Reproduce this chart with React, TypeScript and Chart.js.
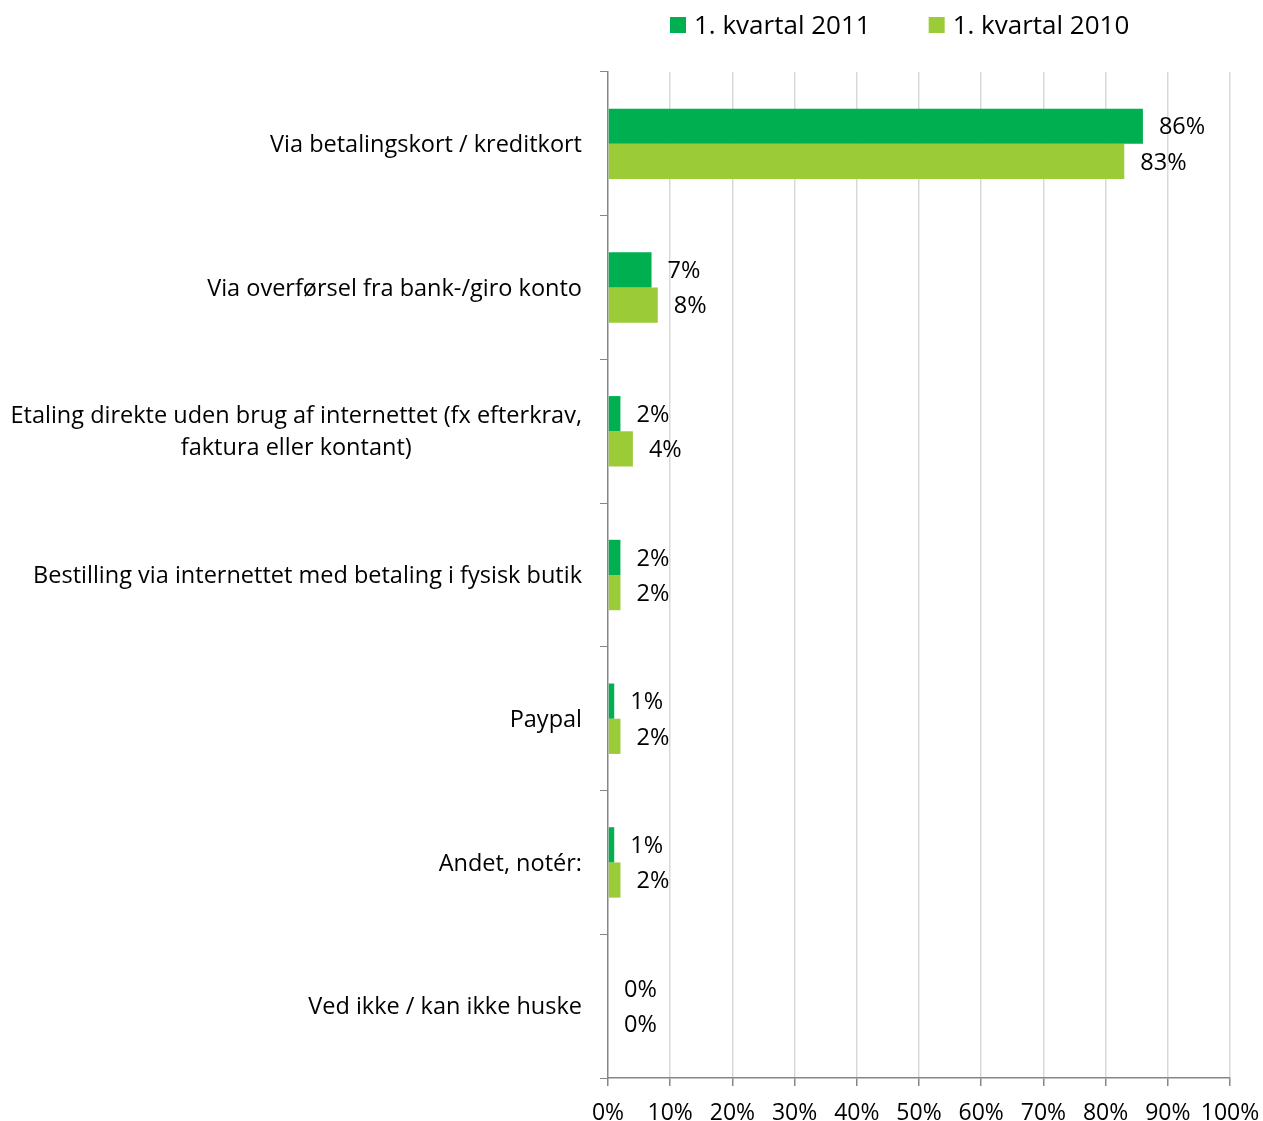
import React, { useEffect, useRef } from "react";
import { Chart, registerables } from "chart.js";

Chart.register(...registerables);

const categories: string[][] = [
  ["Via betalingskort / kreditkort"],
  ["Via overførsel fra bank-/giro konto"],
  ["Etaling direkte uden brug af internettet (fx efterkrav,", "faktura eller kontant)"],
  ["Bestilling via internettet med betaling i fysisk butik"],
  ["Paypal"],
  ["Andet, notér:"],
  ["Ved ikke / kan ikke huske"],
];
const values2011 = [86, 7, 2, 2, 1, 1, 0];
const values2010 = [83, 8, 4, 2, 2, 2, 0];
const seriesLabels = ["1. kvartal 2011", "1. kvartal 2010"];
const seriesColors = ["#00B050", "#9BCB37"];
const xTickValues = [0, 10, 20, 30, 40, 50, 60, 70, 80, 90, 100];

const FONT = "'Open Sans', Lato, sans-serif";

const yLabelPlugin = {
  id: "yLabels",
  afterDraw(chart: any) {
    const ctx = chart.ctx;
    const ys = chart.scales.y;
    const right = chart.chartArea.left - 26;
    ctx.save();
    ctx.font = `23.5px ${FONT}`;
    ctx.fillStyle = "#000";
    ctx.textBaseline = "middle";
    const lh = 32;
    categories.forEach((lines, i) => {
      const cy = ys.getPixelForValue(i) + 1.5;
      const widths = lines.map((l) => ctx.measureText(l).width);
      const maxW = Math.max(...widths);
      const cx = right - maxW / 2;
      const y0 = cy - ((lines.length - 1) * lh) / 2;
      lines.forEach((l, j) => {
        ctx.textAlign = "center";
        ctx.fillText(l, cx, y0 + j * lh);
      });
    });
    ctx.restore();
  },
};

const dataLabelPlugin = {
  id: "dataLabels",
  afterDatasetsDraw(chart: any) {
    const ctx = chart.ctx;
    ctx.save();
    ctx.font = `23.5px ${FONT}`;
    ctx.fillStyle = "#000";
    ctx.textAlign = "left";
    ctx.textBaseline = "middle";
    chart.data.datasets.forEach((ds: any, di: number) => {
      const meta = chart.getDatasetMeta(di);
      meta.data.forEach((el: any, i: number) => {
        ctx.fillText(`${ds.data[i]}%`, el.x + 16, el.y + 1.5);
      });
    });
    ctx.restore();
  },
};

const legendPlugin = {
  id: "customLegend",
  afterDraw(chart: any) {
    const ctx = chart.ctx;
    ctx.save();
    ctx.font = `26px ${FONT}`;
    ctx.textBaseline = "middle";
    ctx.textAlign = "left";
    let x = 670;
    const cy = 25;
    chart.data.datasets.forEach((ds: any) => {
      ctx.fillStyle = ds.backgroundColor;
      ctx.fillRect(x, cy - 8, 16, 16);
      ctx.fillStyle = "#000";
      ctx.fillText(ds.label, x + 24, cy + 2);
      x += 24 + ctx.measureText(ds.label).width + 58;
    });
    ctx.restore();
  },
};

export default function App() {
  const ref = useRef<HTMLCanvasElement | null>(null);
  useEffect(() => {
    if (!ref.current) return;
    const chart = new Chart(ref.current, {
      type: "bar",
      data: {
        labels: categories.map((c) => c.join(" ")),
        datasets: [
          { label: seriesLabels[0], data: values2011, backgroundColor: seriesColors[0] },
          { label: seriesLabels[1], data: values2010, backgroundColor: seriesColors[1] },
        ],
      },
      options: {
        indexAxis: "y",
        animation: false,
        responsive: false,
        layout: { padding: { top: 72, right: 33, left: 0, bottom: 0 } },
        datasets: { bar: { categoryPercentage: 0.49, barPercentage: 1.0 } },
        plugins: { legend: { display: false }, tooltip: { enabled: false } },
        scales: {
          x: {
            min: 0,
            max: 100,
            afterBuildTicks: (s: any) => {
              s.ticks = xTickValues.map((v) => ({ value: v }));
            },
            afterFit: (s: any) => {
              s.height = 43;
              s.paddingLeft = 0;
              s.paddingRight = 0;
            },
            ticks: {
              callback: (v: any) => `${v}%`,
              font: { family: FONT, size: 23 },
              color: "#000",
              padding: 14,
              maxRotation: 0,
              autoSkip: false,
            },
            grid: {
              color: (c: any) => (c.index === 0 ? "rgba(0,0,0,0)" : "#D9D9D9"),
              tickColor: "#868686",
              tickLength: 8,
              lineWidth: 1.5,
            },
            border: { color: "#868686", width: 1.5 },
          },
          y: {
            afterFit: (s: any) => {
              s.width = 608;
            },
            ticks: { display: false },
            grid: {
              drawOnChartArea: false,
              drawTicks: true,
              tickLength: 8,
              tickColor: "#868686",
              color: "#868686",
              offset: true,
            },
            border: { color: "#868686", width: 1.5 },
          },
        },
      },
      plugins: [yLabelPlugin, dataLabelPlugin, legendPlugin],
    });
    return () => chart.destroy();
  }, []);
  return (
    <div style={{ position: "absolute", left: 0, top: 0, width: 1263, height: 1121 }}>
      <canvas ref={ref} width={1263} height={1121} />
    </div>
  );
}
